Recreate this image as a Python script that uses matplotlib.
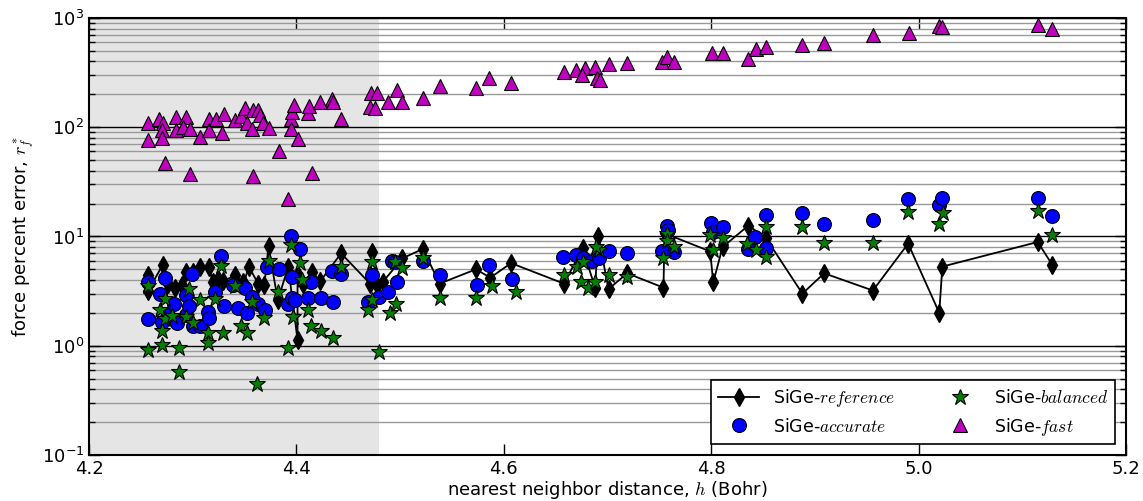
import matplotlib
matplotlib.use('Agg')
from matplotlib import pyplot as plt
from matplotlib.ticker import LogLocator, NullLocator, NullFormatter
import numpy as np

plt.rcParams['mathtext.fontset'] = 'cm'
plt.rcParams['font.size'] = 12
plt.rcParams['axes.unicode_minus'] = False

# nearest neighbor distance (Bohr) and force percent error for each parameter set
ref_x = [4.257, 4.257, 4.271, 4.276, 4.283, 4.290, 4.293, 4.300, 4.307, 4.316,
         4.319, 4.324, 4.329, 4.341, 4.348, 4.349, 4.354, 4.363, 4.369, 4.373,
         4.382, 4.392, 4.401, 4.401, 4.406, 4.415, 4.423, 4.443, 4.471, 4.473,
         4.478, 4.483, 4.502, 4.522, 4.538, 4.573, 4.587, 4.607, 4.658, 4.676,
         4.688, 4.691, 4.701, 4.719, 4.754, 4.755, 4.799, 4.802, 4.811, 4.836,
         4.853, 4.888, 4.909, 4.956, 4.990, 5.020, 5.023, 5.115, 5.129]
ref_y = [4.4, 3.2, 5.5, 3.7, 3.4, 3.6, 4.7, 4.7, 5.3, 5.3,
         3.8, 4.1, 3.9, 4.4, 3.8, 3.7, 5.3, 3.7, 3.6, 8.1,
         2.6, 5.3, 1.13, 4.4, 3.7, 4.7, 3.9, 7.0, 3.7, 7.2,
         3.6, 3.8, 6.3, 7.7, 3.7, 5.0, 4.2, 5.7, 3.7, 7.8,
         3.4, 10.2, 3.3, 4.6, 3.4, 10.7, 7.3, 3.8, 8.0, 12.6,
         9.6, 3.0, 4.6, 3.2, 8.6, 2.0, 5.3, 8.9, 5.5]

acc_x = [4.257, 4.257, 4.268, 4.273, 4.270, 4.276, 4.282, 4.285, 4.293, 4.293,
         4.296, 4.299, 4.300, 4.307, 4.315, 4.316, 4.321, 4.327, 4.330, 4.339,
         4.344, 4.350, 4.352, 4.357, 4.363, 4.370, 4.372, 4.383, 4.395, 4.403,
         4.392, 4.396, 4.399, 4.396, 4.414, 4.411, 4.424, 4.435, 4.434, 4.443,
         4.469, 4.473, 4.480, 4.488, 4.492, 4.495, 4.497, 4.522, 4.538, 4.574,
         4.586, 4.608, 4.657, 4.670, 4.676, 4.685, 4.692, 4.701, 4.719, 4.757,
         4.758, 4.753, 4.764, 4.800, 4.802, 4.811, 4.836, 4.842, 4.853, 4.853,
         4.888, 4.909, 4.956, 4.990, 5.020, 5.023, 5.115, 5.129]
acc_y = [1.77, 3.8, 3.0, 4.2, 1.66, 1.9, 2.4, 1.63, 1.9, 2.9,
         2.3, 4.5, 1.5, 1.52, 2.05, 1.8, 3.1, 6.6, 2.3, 3.6,
         2.2, 3.4, 2.0, 2.8, 2.4, 2.1, 5.2, 5.0, 10.0, 7.7,
         2.4, 2.75, 2.6, 4.3, 3.8, 2.75, 2.75, 2.5, 4.8, 4.5,
         2.5, 4.4, 2.8, 3.1, 5.9, 5.8, 3.8, 5.9, 4.4, 3.6,
         5.5, 4.1, 6.5, 6.8, 6.3, 5.9, 6.3, 7.3, 7.1, 12.6,
         11.5, 7.3, 7.2, 13.2, 10.9, 12.3, 7.6, 9.8, 15.8, 7.9,
         16.5, 13.0, 14.2, 22.0, 19.3, 22.7, 22.7, 15.3]

bal_x = [4.257, 4.257, 4.270, 4.287, 4.287, 4.270, 4.268, 4.273, 4.273, 4.280,
         4.293, 4.296, 4.300, 4.307, 4.315, 4.315, 4.321, 4.327, 4.329, 4.341,
         4.346, 4.352, 4.357, 4.369, 4.362, 4.373, 4.382, 4.392, 4.395, 4.397,
         4.403, 4.405, 4.411, 4.414, 4.424, 4.435, 4.443, 4.469, 4.473, 4.473,
         4.480, 4.490, 4.496, 4.495, 4.502, 4.522, 4.538, 4.573, 4.589, 4.612,
         4.658, 4.671, 4.676, 4.674, 4.681, 4.688, 4.692, 4.689, 4.701, 4.719,
         4.757, 4.757, 4.754, 4.764, 4.799, 4.802, 4.811, 4.835, 4.843, 4.853,
         4.853, 4.888, 4.909, 4.956, 4.990, 5.020, 5.024, 5.115, 5.129]
bal_y = [0.92, 3.5, 1.02, 0.96, 0.58, 1.35, 2.1, 2.65, 1.76, 1.86,
         1.85, 3.3, 1.63, 2.6, 1.3, 1.06, 2.7, 5.4, 1.3, 3.5,
         1.5, 1.3, 2.5, 1.8, 0.45, 5.9, 3.1, 0.96, 8.3, 1.85,
         5.7, 4.0, 2.1, 1.52, 1.35, 1.18, 5.3, 2.1, 5.8, 2.6,
         0.88, 2.0, 2.4, 5.8, 5.1, 6.3, 2.75, 2.75, 3.5, 3.1,
         4.4, 5.2, 5.8, 3.8, 3.4, 3.8, 7.5, 8.0, 4.4, 4.3,
         10.6, 9.0, 6.3, 8.0, 10.4, 7.5, 9.7, 8.5, 7.5, 12.1,
         6.5, 12.1, 8.8, 8.8, 16.7, 13.0, 16.3, 17.1, 10.4]

fast_x = [4.257, 4.257, 4.267, 4.271, 4.270, 4.270, 4.273, 4.284, 4.284, 4.293,
          4.291, 4.297, 4.297, 4.307, 4.316, 4.316, 4.322, 4.328, 4.330, 4.341,
          4.346, 4.350, 4.352, 4.357, 4.358, 4.358, 4.363, 4.365, 4.368, 4.373,
          4.383, 4.392, 4.395, 4.395, 4.396, 4.398, 4.401, 4.411, 4.412, 4.415,
          4.423, 4.434, 4.435, 4.443, 4.472, 4.478, 4.471, 4.476, 4.488, 4.497,
          4.502, 4.522, 4.538, 4.573, 4.586, 4.607, 4.658, 4.670, 4.678, 4.675,
          4.688, 4.690, 4.693, 4.701, 4.719, 4.753, 4.757, 4.764, 4.801, 4.811,
          4.836, 4.843, 4.853, 4.888, 4.909, 4.956, 4.991, 5.020, 5.023, 5.115,
          5.129]
fast_y = [110, 76, 120, 110, 94, 80, 47, 123, 94, 123,
          100, 96, 37, 81, 118, 94, 120, 88, 131, 116,
          126, 150, 110, 96, 36, 143, 143, 129, 110, 98,
          61, 22, 120, 96, 137, 160, 78, 134, 155, 38,
          172, 183, 172, 120, 205, 205, 153, 150, 170, 220,
          170, 185, 240, 230, 280, 255, 320, 335, 350, 300,
          355, 280, 270, 380, 385, 395, 440, 395, 480, 480,
          425, 520, 540, 565, 590, 700, 730, 845, 820, 860,
          790]

shade_max = 4.48

fig = plt.figure(figsize=(11.43, 5.01), dpi=100)
ax = fig.add_axes([0.078, 0.092, 0.907, 0.872])

ax.axvspan(4.2, shade_max, color='#e5e5e5', zorder=0, lw=0)

ax.plot(ref_x, ref_y, 'k-', marker='d', markersize=9, markeredgecolor='k',
        lw=1.3, label=r'SiGe-$reference$', zorder=3)
ax.plot(acc_x, acc_y, 'o', color='b', markersize=10, markeredgecolor='k',
        markeredgewidth=0.8, label=r'SiGe-$accurate$', zorder=4)
ax.plot(bal_x, bal_y, '*', color='g', markersize=12, markeredgecolor='k',
        markeredgewidth=0.8, label=r'SiGe-$balanced$', zorder=5)
ax.plot(fast_x, fast_y, '^', color='m', markersize=10, markeredgecolor='k',
        markeredgewidth=0.8, label=r'SiGe-$fast$', zorder=6)

ax.set_yscale('log')
ax.set_xlim(4.2, 5.2)
ax.set_ylim(0.1, 1000)
ax.set_xticks(np.arange(4.2, 5.21, 0.2))
ax.set_xticklabels(['%.1f' % v for v in np.arange(4.2, 5.21, 0.2)])
ax.xaxis.set_minor_locator(NullLocator())
ax.yaxis.set_minor_locator(LogLocator(base=10, subs=np.arange(2, 10), numticks=20))
ax.yaxis.set_minor_formatter(NullFormatter())

ax.set_axisbelow(True)
ax.yaxis.grid(True, which='major', color='k', linestyle='-', lw=1.0, zorder=1)
ax.yaxis.grid(True, which='minor', color='0.6', linestyle='-', lw=1.0, zorder=1)

ax.tick_params(which='both', direction='in', top=True, right=True, labelsize=13)
ax.tick_params(which='major', length=8, width=1)
ax.tick_params(which='minor', length=4, width=1)
for s in ax.spines.values():
    s.set_linewidth(1.5)

ax.set_xlabel(r'nearest neighbor distance, $h$ (Bohr)', fontsize=13, labelpad=1)
ax.set_ylabel(r'force percent error, $r_f^*$', fontsize=13)

leg = ax.legend(loc='lower right', ncol=2, numpoints=1, fancybox=False,
                fontsize=12.5, handlelength=2.4, columnspacing=2.5,
                borderaxespad=0.6, framealpha=1)
leg.get_frame().set_edgecolor('k')
leg.get_frame().set_linewidth(1.2)

plt.savefig('out.png', dpi=100)
plt.close()
